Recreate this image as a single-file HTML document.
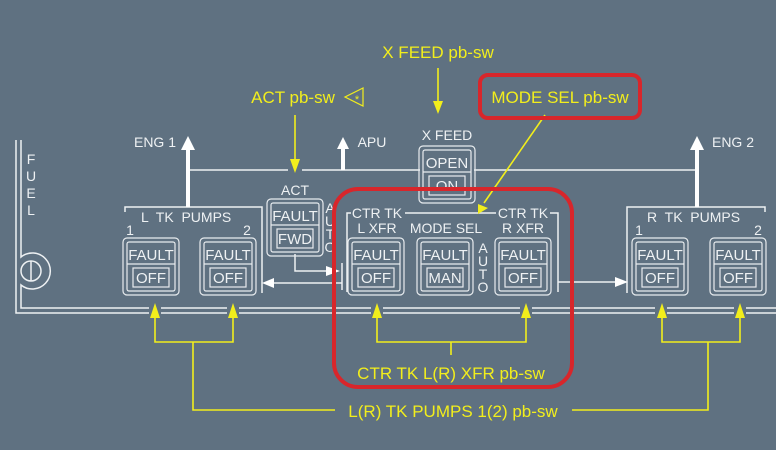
<!DOCTYPE html>
<html><head><meta charset="utf-8"><style>
html,body{margin:0;padding:0;background:#5f7181;}
svg{display:block;font-family:"Liberation Sans",sans-serif;}
</style></head><body>
<svg width="776" height="450" viewBox="0 0 776 450" xmlns="http://www.w3.org/2000/svg">
<defs>
<g id="btn">
<rect x="0" y="0" width="56" height="57" rx="4" fill="none" stroke="#e8ecef" stroke-width="1.2"/>
<rect x="4" y="4" width="48" height="49" rx="2" fill="none" stroke="#e8ecef" stroke-width="1.2"/>
<line x1="4" y1="26" x2="52" y2="26" stroke="#e8ecef" stroke-width="1.2"/>
<rect x="10" y="30" width="36" height="19" fill="none" stroke="#e8ecef" stroke-width="1.2"/>
</g>
</defs>
<rect width="776" height="450" fill="#5f7181"/>
<g stroke="#eef1f3" fill="none" stroke-width="1.5">
<path d="M16 140 V313 H776"/>
<path d="M21 140 V257 A18 18 0 1 1 21 285 V308 H776"/>
<circle cx="31" cy="271" r="10"/>
<line x1="31" y1="261" x2="31" y2="281"/>
<path d="M188 170 H288 M302 170 H420 M474 170 H697"/>
<path d="M125 212 V207 H262 V293"/>
<path d="M347 292 V213 H351 M405 213 H496 M550 213 H558 V292"/>
<path d="M627 293 V207 H765 V212"/>
<path d="M295 254 V271 H326"/>
<line x1="342" y1="263" x2="342" y2="290"/>
<path d="M342 283 H274"/>
<path d="M558 282 H615"/>
</g>
<g fill="#fff">
<polygon points="326,266 340,271 326,276"/>
<polygon points="274,278 262,283 274,288"/>
<polygon points="615,277 628,282 615,287"/>
</g>
<g stroke="#fff" stroke-width="4">
<line x1="188" y1="207" x2="188" y2="148"/>
<line x1="697" y1="207" x2="697" y2="148"/>
<line x1="343" y1="170" x2="343" y2="147"/>
</g>
<g fill="#fff">
<polygon points="181,150 188,136 195,150"/>
<polygon points="690,150 697,136 704,150"/>
<polygon points="337,149 343,137 349,149"/>
</g>
<g fill="#5f7181">
<rect x="149" y="304" width="12" height="12"/>
<rect x="227" y="304" width="12" height="12"/>
<rect x="371" y="304" width="12" height="12"/>
<rect x="520" y="304" width="12" height="12"/>
<rect x="655" y="304" width="12" height="12"/>
<rect x="734" y="304" width="12" height="12"/>
</g>
<use href="#btn" x="123" y="238"/>
<use href="#btn" x="200" y="238"/>
<use href="#btn" x="267" y="199"/>
<use href="#btn" x="348" y="238"/>
<use href="#btn" x="417" y="238"/>
<use href="#btn" x="495" y="238"/>
<use href="#btn" x="632" y="238"/>
<use href="#btn" x="710" y="238"/>
<use href="#btn" x="419" y="146"/>
<g fill="#eef1f3" font-size="15" text-anchor="middle">
<text x="151" y="260">FAULT</text><text x="151" y="283">OFF</text>
<text x="228" y="260">FAULT</text><text x="228" y="283">OFF</text>
<text x="295" y="221">FAULT</text><text x="295" y="244">FWD</text>
<text x="376" y="260">FAULT</text><text x="376" y="283">OFF</text>
<text x="445" y="260">FAULT</text><text x="445" y="283">MAN</text>
<text x="523" y="260">FAULT</text><text x="523" y="283">OFF</text>
<text x="660" y="260">FAULT</text><text x="660" y="283">OFF</text>
<text x="738" y="260">FAULT</text><text x="738" y="283">OFF</text>
<text x="447" y="168">OPEN</text><text x="447" y="191">ON</text>
</g>
<g fill="#eef1f3" font-size="14" text-anchor="middle">
<text x="447" y="140">X FEED</text>
<text x="295" y="195">ACT</text>
<text x="377" y="218">CTR TK</text><text x="377" y="233">L XFR</text>
<text x="446" y="233">MODE SEL</text>
<text x="523" y="218">CTR TK</text><text x="523" y="233">R XFR</text>
<text x="31" y="164">F</text><text x="31" y="181">U</text><text x="31" y="198">E</text><text x="31" y="215">L</text>
<text x="330" y="213">A</text><text x="330" y="226">U</text><text x="330" y="239">T</text><text x="330" y="252">O</text>
<text x="483" y="253">A</text><text x="483" y="266">U</text><text x="483" y="279">T</text><text x="483" y="292">O</text>
<text x="130" y="235">1</text><text x="247" y="235">2</text>
<text x="639" y="235">1</text><text x="758" y="235">2</text>
<text x="155" y="147">ENG 1</text>
<text x="372" y="147">APU</text>
<text x="733" y="147">ENG 2</text>
</g>
<g fill="#eef1f3" font-size="14">
<text x="141" y="222" xml:space="preserve">L  TK  PUMPS</text>
<text x="647" y="222" xml:space="preserve">R  TK  PUMPS</text>
</g>
<g stroke="#f2ee1c" stroke-width="1.6" fill="none">
<line x1="438" y1="68" x2="438" y2="102"/>
<line x1="295" y1="115" x2="295" y2="160"/>
<line x1="545" y1="115" x2="484" y2="203"/>
<path d="M155 318 V342 H233 V318 M193 342 V410 H335 M572 410 H708 V342 M662 318 V342 H740 V318"/>
<path d="M377 318 V342 H526 V318 M451 342 V355"/>
<path d="M363 88 L345 97 L363 106 Z" stroke-width="1.2"/>
</g>
<g fill="#f2ee1c">
<polygon points="433,101 438,114 443,101"/>
<polygon points="290,159 295,173 300,159"/>
<polygon points="478,204 478,214 488,208"/>
<polygon points="150,318 155,303 160,318"/>
<polygon points="228,318 233,303 238,318"/>
<polygon points="372,318 377,303 382,318"/>
<polygon points="521,318 526,303 531,318"/>
<polygon points="657,318 662,303 667,318"/>
<polygon points="735,318 740,303 745,318"/>
</g>
<g fill="#f2ee1c" font-size="17" text-anchor="middle">
<text x="438" y="58">X FEED pb-sw</text>
<text x="293" y="103">ACT pb-sw</text>
<text x="560" y="103">MODE SEL pb-sw</text>
<text x="451" y="379">CTR TK L(R) XFR pb-sw</text>
<text x="453" y="417">L(R) TK PUMPS 1(2) pb-sw</text>
<text x="357" y="103" font-size="11">*</text>
</g>
<rect x="334" y="189" width="238" height="198" rx="24" fill="none" stroke="#d8262b" stroke-width="4"/>
<rect x="480" y="75" width="160" height="43" rx="8" fill="none" stroke="#d8262b" stroke-width="4"/>
</svg>
</body></html>
